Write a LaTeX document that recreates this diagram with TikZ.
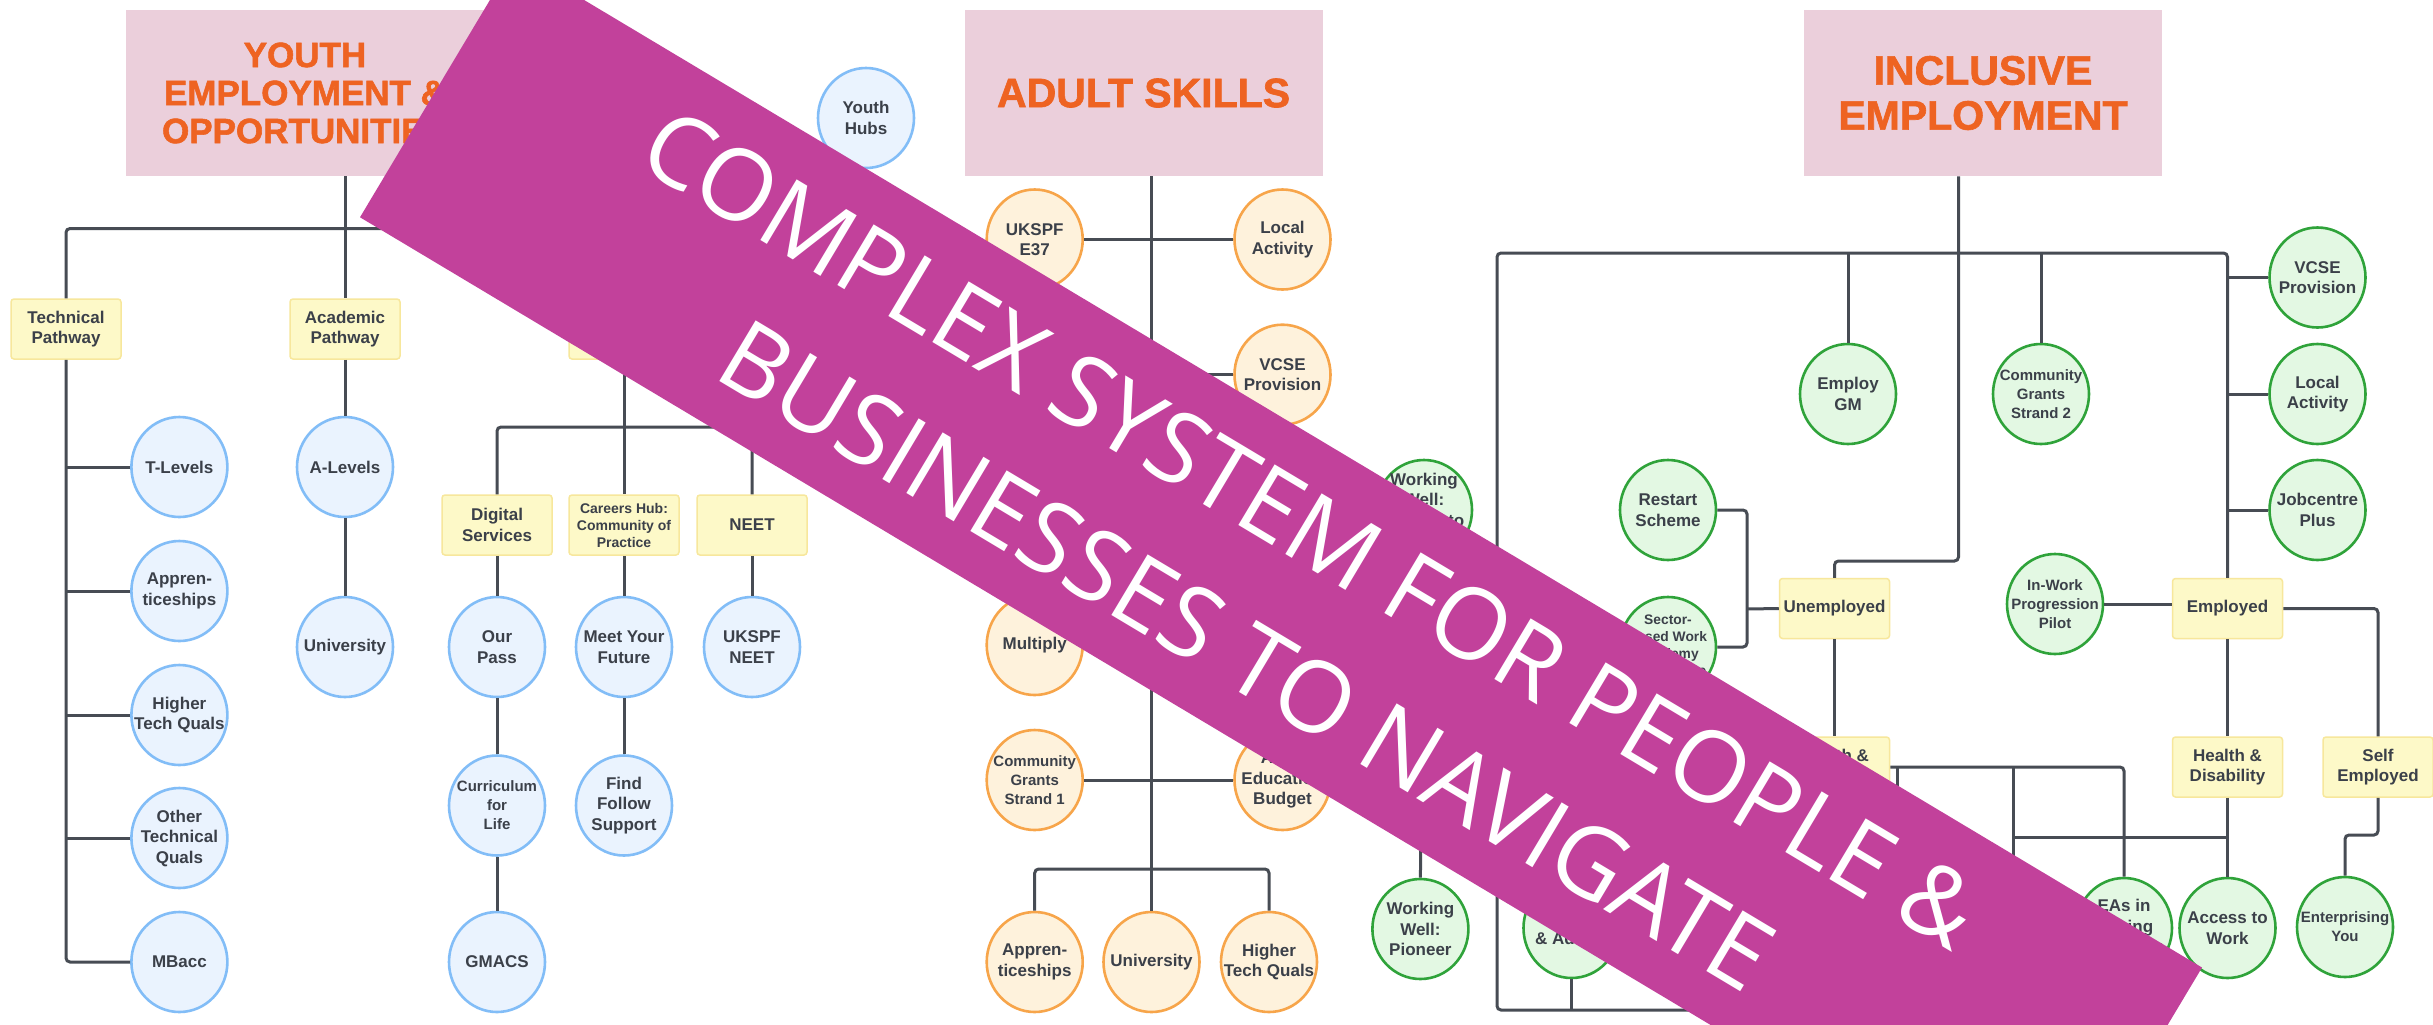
\documentclass[tikz,border=0pt]{standalone}
\usepackage{fontspec}
\setmainfont{Liberation Sans}
\newfontfamily\bannerfont{Open Sans}
\newfontfamily\headfont[BoldFeatures={FakeBold=1.6}]{Liberation Sans}
\usetikzlibrary{shapes.geometric}

\definecolor{ink}{HTML}{3B4049}
\definecolor{wirec}{HTML}{474C54}
\definecolor{yfill}{HTML}{FDF9C8}
\definecolor{yline}{HTML}{F7E79C}
\definecolor{bfill}{HTML}{EAF3FE}
\definecolor{bline}{HTML}{82BDF7}
\definecolor{ofill}{HTML}{FEF2DC}
\definecolor{oline}{HTML}{F7A54A}
\definecolor{gfill}{HTML}{E3F8E3}
\definecolor{gline}{HTML}{2FA33A}
\definecolor{pinkc}{HTML}{EBCFDB}
\definecolor{titlec}{HTML}{EE6322}
\definecolor{bannerc}{HTML}{C2419B}

\tikzset{
  wire/.style={draw=wirec, line width=1.5pt, rounded corners=2pt},
  pathbox/.style={rectangle, rounded corners=1.5pt, fill=yfill, draw=yline,
    line width=0.75pt, minimum width=55pt, minimum height=30pt, inner sep=0pt,
    align=center, text=ink, font=\bfseries\fontsize{8.5}{10.25}\selectfont},
  bubble/.style={ellipse, minimum width=48pt, minimum height=50pt, inner sep=-8pt,
    line width=1.3pt, align=center, text=ink,
    font=\bfseries\fontsize{8.5}{10.25}\selectfont},
  youth/.style={bubble, fill=bfill, draw=bline},
  adult/.style={bubble, fill=ofill, draw=oline},
  incl/.style={bubble, fill=gfill, draw=gline},
  smalltext/.style={font=\bfseries\fontsize{7.5}{9.5}\selectfont},
  tinytext/.style={font=\bfseries\fontsize{6.9}{8.5}\selectfont},
  headbox/.style={rectangle, fill=pinkc, minimum width=179pt, minimum height=83pt,
    inner sep=0pt, align=center, text=titlec},
  bannertext/.style={transform shape, text=white, inner sep=0pt,
    font=\bannerfont\fontsize{49.5}{60}\selectfont},
}

\begin{document}
\begin{tikzpicture}[x=0.5pt, y=-0.5pt]
\useasboundingbox (0,0) rectangle (2433,1024);
\fill[white] (0,0) rectangle (2433,1024);

% ---------------- Youth employment & opportunities ----------------
\node[headbox, font=\headfont\bfseries\fontsize{17.5}{19}\selectfont] (yt) at (305,93)
  {YOUTH\\EMPLOYMENT \&\\OPPORTUNITIES};
\node[pathbox] (tech) at (66,329) {Technical\\Pathway};
\node[pathbox] (acad) at (345,329) {Academic\\Pathway};
\node[pathbox] (voc) at (624,329) {};
\node[youth] (hubs) at (866,118) {Youth\\Hubs};

\node[youth] (tlev) at (179.4,467) {T-Levels};
\node[youth] (appr) at (179.4,591) {Appren-\\ticeships};
\node[youth] (htq) at (179.4,715) {Higher\\Tech Quals};
\node[youth] (otq) at (179.4,838) {Other\\Technical\\Quals};
\node[youth] (mbacc) at (179.4,962) {MBacc};

\node[youth] (alev) at (345,467) {A-Levels};
\node[youth] (uni) at (345,647) {University};

\node[pathbox] (dig) at (497,525) {Digital\\Services};
\node[pathbox, font=\bfseries\fontsize{7}{8.5}\selectfont] (car) at (624,525)
  {Careers Hub:\\Community of\\Practice};
\node[pathbox] (neet) at (752,525) {NEET};

\node[youth] (ourpass) at (497,647) {Our\\Pass};
\node[youth] (meet) at (624,647) {Meet Your\\Future};
\node[youth] (ukneet) at (752,647) {UKSPF\\NEET};
\node[youth, smalltext] (curric) at (497,805.5) {Curriculum\\for\\Life};
\node[youth] (find) at (624,805.5) {Find\\Follow\\Support};
\node[youth] (gmacs) at (497,962) {GMACS};

\coordinate (ybus) at (345,228.5);
\coordinate (vbus) at (624,427);
\draw[wire] (acad.north |- yt.south) -- (acad.north);
\draw[wire] (tech.north) |- (ybus) -| (voc.north);
\draw[wire] (tech.south) |- (mbacc.west);
\foreach \n in {tlev,appr,htq,otq}
  \draw[wire] (tech.south |- \n.west) -- (\n.west);
\draw[wire] (acad.south) -- (alev.north) (alev.south) -- (uni.north);
\draw[wire] (voc.south) -- (car.north);
\draw[wire] (dig.north) |- (vbus) -| (neet.north);
\draw[wire] (dig.south) -- (ourpass.north) (ourpass.south) -- (curric.north)
  (curric.south) -- (gmacs.north);
\draw[wire] (car.south) -- (meet.north) (meet.south) -- (find.north);
\draw[wire] (neet.south) -- (ukneet.north);

% ---------------- Adult skills ----------------
\node[headbox, font=\headfont\bfseries\fontsize{20.5}{22.5}\selectfont] (as) at (1143.6,93)
  {ADULT SKILLS};
\node[adult] (ukspf) at (1034.7,239.5) {UKSPF\\E37};
\node[adult] (local) at (1282.5,239.5) {Local\\Activity};
\node[adult] (vcse) at (1282.5,374.7) {VCSE\\Provision};
\node[adult] (multiply) at (1034.7,645) {Multiply};
\node[adult, smalltext] (cgs1) at (1034.7,780) {Community\\Grants\\Strand 1};
\node[adult] (aeb) at (1282.5,780) {Adult\\Education\\Budget};
\node[adult] (aappr) at (1034.7,962) {Appren-\\ticeships};
\node[adult] (auni) at (1151.5,962) {University};
\node[adult] (ahtq) at (1269,962) {Higher\\Tech Quals};

\coordinate (abus) at (1151.5,869);
\draw[wire] (auni.north |- as.south) -- (auni.north);
\draw[wire] (ukspf.east) -- (local.west);
\draw[wire] (auni.north |- vcse.west) -- (vcse.west);
\draw[wire] (multiply.east) -- (auni.north |- multiply.east);
\draw[wire] (cgs1.east) -- (aeb.west);
\draw[wire] (aappr.north) |- (abus) -| (ahtq.north);

% ---------------- Inclusive employment ----------------
\node[headbox, font=\headfont\bfseries\fontsize{20.5}{22.5}\selectfont] (ie) at (1983,93)
  {INCLUSIVE\\EMPLOYMENT};
\node[incl] (empgm) at (1848,394) {Employ\\GM};
\node[incl, smalltext] (cgs2) at (2041,394) {Community\\Grants\\Strand 2};
\node[incl] (ivcse) at (2317.5,277.5) {VCSE\\Provision};
\node[incl] (ilocal) at (2317.5,394) {Local\\Activity};
\node[incl] (jcp) at (2317.5,510) {Jobcentre\\Plus};
\node[incl] (ww) at (1424,510) {Working\\Well:\\Access to\\Work};
\node[incl] (restart) at (1668,510) {Restart\\Scheme};
\node[incl, tinytext] (sector) at (1668,647) {Sector-\\based Work\\Academy\\Programme};
\node[pathbox] (unemp) at (1834.5,608.5) {Unemployed};
\node[incl, smalltext] (inwork) at (2055,604) {In-Work\\Progression\\Pilot};
\node[pathbox] (emp) at (2227.5,608.5) {Employed};
\node[pathbox] (unhd) at (1834.5,767) {Health \&\\Disability};
\node[pathbox] (emphd) at (2227.5,767) {Health \&\\Disability};
\node[pathbox] (selfemp) at (2378,767) {Self\\Employed};
\node[incl] (wwp) at (1420.4,929) {Working\\Well:\\Pioneer};
\node[incl] (anda) at (1571.5,928) {Skills\\\& Advice};
\node[incl] (eas) at (2124,928) {EAs in\\Talking\\Therapies};
\node[incl] (atw) at (2227.5,928) {Access to\\Work};
\node[incl, smalltext] (entyou) at (2345,927) {Enterprising\\You};

\coordinate (istem) at (1958.5,561);
\coordinate (ibusL) at (1497,253);
\coordinate (ibotR) at (1760,1010);
\coordinate (ubr) at (1747,609);
\coordinate (dropA) at (1897,767);
\coordinate (dropAend) at (1897,960);
\coordinate (dropB) at (2013,767);
\coordinate (dropBend) at (2013,900);
\coordinate (hdlink) at (2013,837);
\coordinate (sbend) at (2345,835);

\draw[wire] (istem |- ie.south) -- (istem) -| (unemp.north);
\draw[wire] (ibotR) -| (ibusL) -| (emp.north);
\draw[wire] (empgm.north |- ibusL) -- (empgm.north);
\draw[wire] (cgs2.north |- ibusL) -- (cgs2.north);
\foreach \n in {ivcse,ilocal,jcp}
  \draw[wire] (emp.north |- \n.west) -- (\n.west);
\draw[wire] (restart.east) -| (ubr) |- (sector.east);
\draw[wire] (ubr) -- (unemp.west);
\draw[wire] (inwork.east) -- (inwork.east -| emp.west);
\draw[wire] (emp.east) -| (selfemp.north);
\draw[wire] (emp.south) -- (emphd.north) (emphd.south) -- (atw.north);
\draw[wire] (selfemp.south) |- (sbend) -- (entyou.north);
\draw[wire] (unemp.south) -- (unhd.north);
\draw[wire] (unhd.east) -| (eas.north);
\draw[wire] (dropA) -- (dropAend);
\draw[wire] (dropB) -- (dropBend);
\draw[wire] (hdlink) -- (hdlink -| emphd.south);
\draw[wire] (anda.south) -- (anda.south |- ibotR);
\draw[wire] (ww.south) -- (wwp.north);

% ---------------- Diagonal banner ----------------
\begin{scope}[shift={(1281,592.4)}, rotate=-30.88]
  \fill[bannerc] (-983,-150.75) rectangle (983,150.75);
  \node[bannertext, anchor=base] (line1) at (-6.6,-35.5) {COMPLEX SYSTEM FOR PEOPLE \&};
  \node[bannertext, anchor=base] (line2) at (2.5,107) {BUSINESSES TO NAVIGATE};
\end{scope}
\end{tikzpicture}
\end{document}
